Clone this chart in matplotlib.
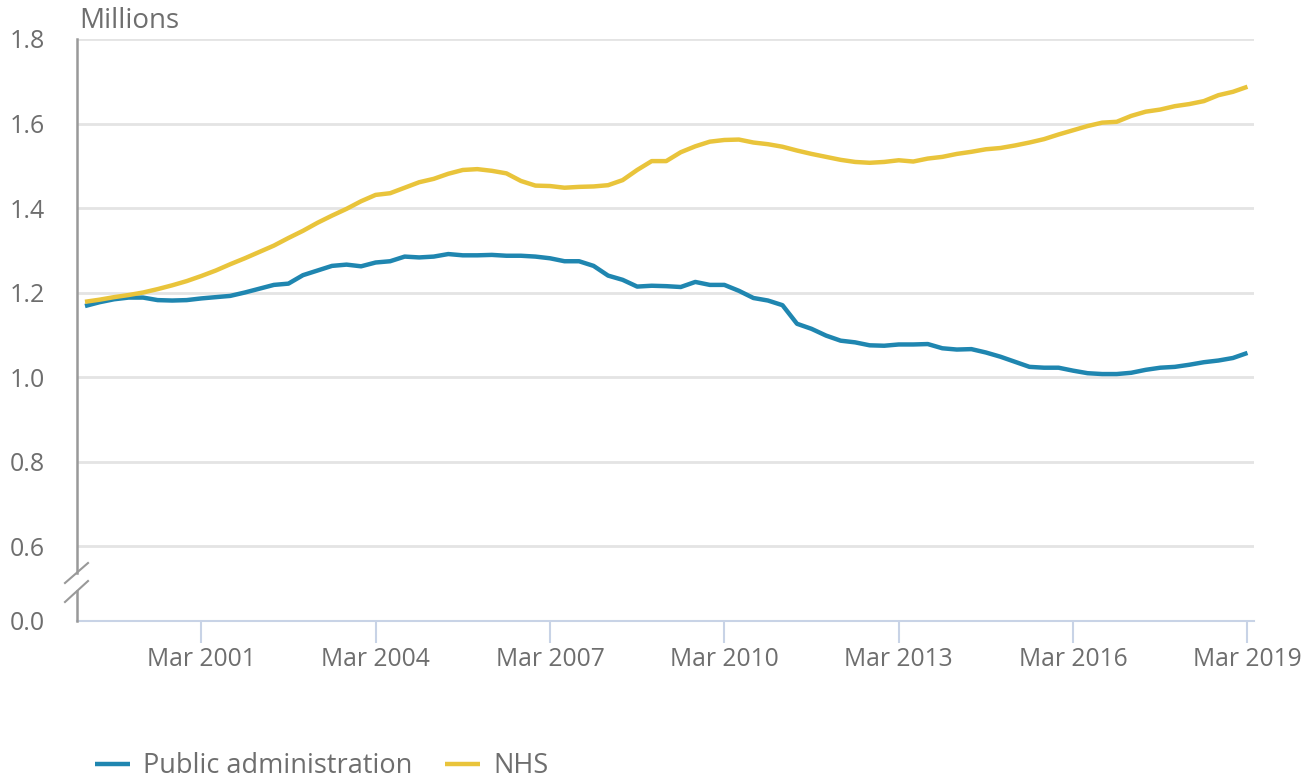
import matplotlib
matplotlib.use("Agg")
import matplotlib.pyplot as plt
from matplotlib.lines import Line2D
import numpy as np

plt.rcParams['font.family'] = ['Open Sans', 'DejaVu Sans']

# Quarterly observations, Mar 1999 .. Mar 2019
quarters = [f"{m} {y}" for y in range(1999, 2020) for m in ("Mar", "Jun", "Sep", "Dec")][:81]

public_admin = [
    1.168, 1.177, 1.184, 1.188, 1.188, 1.182, 1.181, 1.182, 1.186, 1.189,
    1.192, 1.200, 1.209, 1.218, 1.221, 1.241, 1.252, 1.263, 1.266, 1.262,
    1.271, 1.274, 1.285, 1.283, 1.285, 1.291, 1.288, 1.288, 1.289, 1.287,
    1.287, 1.285, 1.281, 1.274, 1.274, 1.263, 1.240, 1.230, 1.214, 1.216,
    1.215, 1.213, 1.225, 1.218, 1.218, 1.204, 1.187, 1.181, 1.170, 1.126,
    1.114, 1.098, 1.086, 1.082, 1.075, 1.074, 1.077, 1.077, 1.078, 1.068,
    1.065, 1.066, 1.058, 1.048, 1.036, 1.024, 1.022, 1.022, 1.015, 1.009,
    1.007, 1.007, 1.010, 1.017, 1.022, 1.024, 1.029, 1.035, 1.039, 1.045,
    1.057,
]
nhs = [
    1.178, 1.183, 1.189, 1.194, 1.200, 1.208, 1.217, 1.227, 1.239, 1.252,
    1.267, 1.281, 1.296, 1.311, 1.329, 1.346, 1.365, 1.382, 1.398, 1.416,
    1.431, 1.435, 1.448, 1.461, 1.469, 1.481, 1.490, 1.492, 1.488, 1.482,
    1.464, 1.453, 1.452, 1.448, 1.450, 1.451, 1.454, 1.466, 1.490, 1.511,
    1.511, 1.532, 1.546, 1.557, 1.561, 1.562, 1.555, 1.551, 1.545, 1.536,
    1.528, 1.521, 1.514, 1.509, 1.507, 1.509, 1.513, 1.510, 1.517, 1.521,
    1.528, 1.533, 1.539, 1.542, 1.548, 1.555, 1.563, 1.574, 1.584, 1.594,
    1.602, 1.604, 1.618, 1.628, 1.633, 1.641, 1.646, 1.653, 1.667, 1.675,
    1.687,
]
series_names = ["Public administration", "NHS"]
series_colors = ["#1f86b0", "#e9c43b"]

x_tick_labels = ["Mar 2001", "Mar 2004", "Mar 2007", "Mar 2010", "Mar 2013", "Mar 2016", "Mar 2019"]
y_tick_values = [0.6, 0.8, 1.0, 1.2, 1.4, 1.6, 1.8]
y_axis_break_value = 0.4225  # broken-axis position shown as "0.0"

W, H = 1314, 780
fig = plt.figure(figsize=(W / 100, H / 100), dpi=100)
ax_left, ax_right, ax_top, ax_bottom = 77, 1254, 39, 621
ax = fig.add_axes([ax_left / W, 1 - ax_bottom / H, (ax_right - ax_left) / W, (ax_bottom - ax_top) / H])

x = np.arange(len(quarters))
for vals, name, col in zip([public_admin, nhs], series_names, series_colors):
    ax.plot(x, vals, color=col, lw=3.2, label=name, solid_capstyle='butt', zorder=3)

ax.set_xlim(-0.55, 80.45)
ax.set_ylim(y_axis_break_value, 1.8)

text_col = "#6e6e6e"
grid_col = "#e4e4e4"
for v in y_tick_values:
    ax.axhline(v, color=grid_col, lw=2, zorder=1)

ax.set_yticks([y_axis_break_value] + y_tick_values)
ax.set_yticklabels(["0.0"] + [f"{v:.1f}" for v in y_tick_values])
xt = [quarters.index(l) for l in x_tick_labels]
ax.set_xticks(xt)
ax.set_xticklabels(x_tick_labels)

ax.tick_params(axis='y', length=0, pad=23, labelsize=18, labelcolor=text_col)
ax.tick_params(axis='x', length=16, width=1.5, color="#c8d3e6", pad=3, labelsize=17.7, labelcolor=text_col)

for s in ["top", "right", "left"]:
    ax.spines[s].set_visible(False)
ax.spines["bottom"].set_color("#c8d3e6")
ax.spines["bottom"].set_linewidth(1.5)

# y spine with break
spine_col = "#999999"
def fx(px):
    return px / W
def fy(py):
    return 1 - py / H
fig.add_artist(Line2D([fx(77), fx(77)], [fy(39), fy(573)], color=spine_col, lw=1.8))
fig.add_artist(Line2D([fx(77), fx(77)], [fy(591), fy(621)], color=spine_col, lw=1.8))
fig.add_artist(Line2D([fx(65), fx(88)], [fy(583), fy(563)], color=spine_col, lw=1.5))
fig.add_artist(Line2D([fx(65), fx(88)], [fy(602), fy(581)], color=spine_col, lw=1.5))

fig.text(fx(79), fy(21), "Millions", fontsize=20, color=text_col, ha='left', va='center')

leg = fig.legend(loc='center left', bbox_to_anchor=(fx(95), fy(766)), ncol=2, frameon=False,
                 fontsize=19.5, handlelength=1.3, handletextpad=0.48, columnspacing=1.2,
                 borderpad=0, borderaxespad=0)
for t in leg.get_texts():
    t.set_color(text_col)

fig.savefig("out.png", dpi=100)
